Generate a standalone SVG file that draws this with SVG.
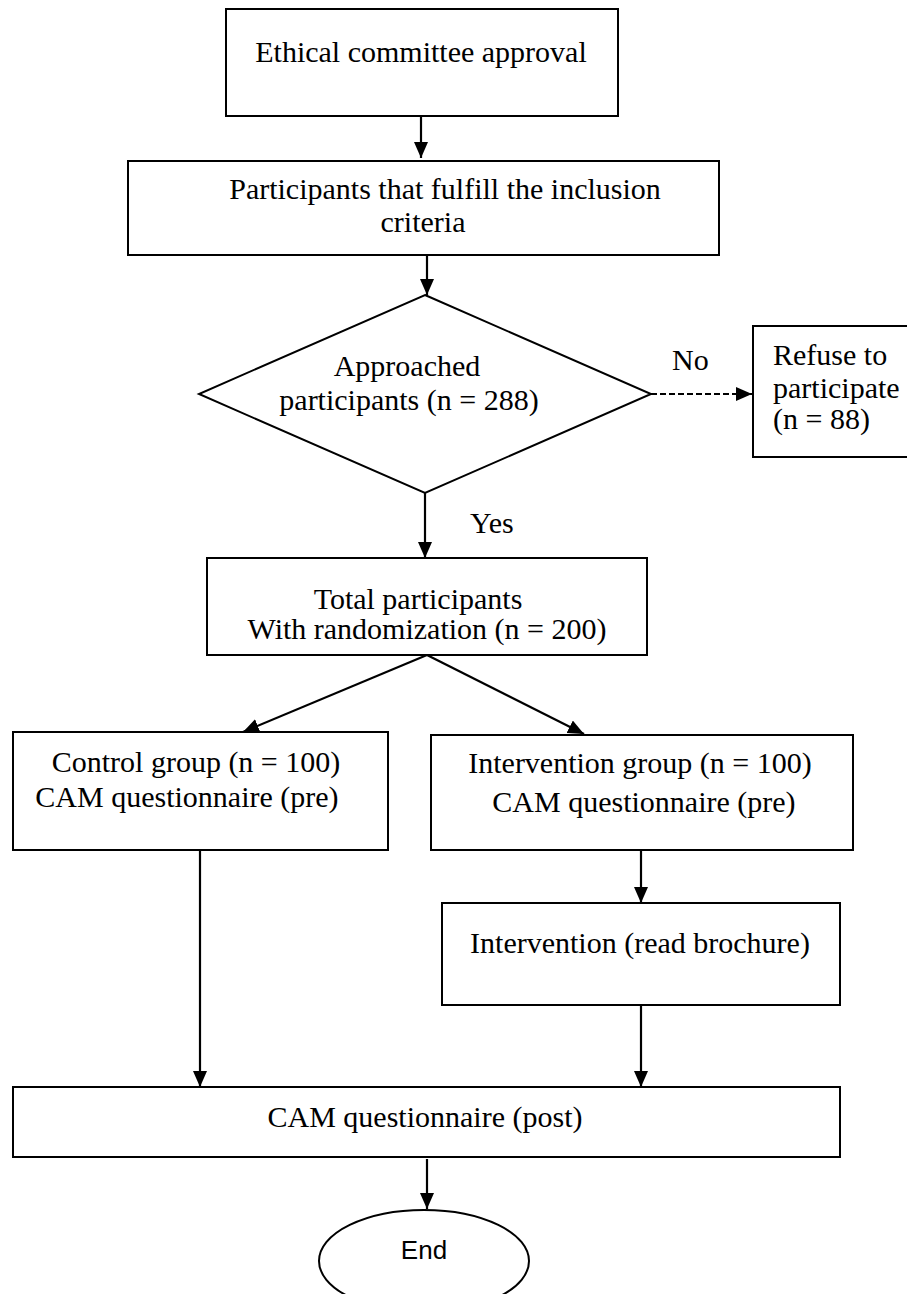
<svg xmlns="http://www.w3.org/2000/svg" width="907" height="1294" viewBox="0 0 907 1294">
<defs>
<style>
.box{fill:#fff;stroke:#000;stroke-width:2}
.t{font-family:"Liberation Serif","Times New Roman",serif;font-size:30px;fill:#000}
.c{text-anchor:middle}
.s{font-family:"Liberation Sans",Arial,sans-serif;font-size:26px;fill:#000;text-anchor:middle}
.ln{stroke:#000;stroke-width:2.2;fill:none;marker-end:url(#ah)}
.dash{stroke-dasharray:6 3}
</style>
<marker id="ah" markerUnits="userSpaceOnUse" markerWidth="18" markerHeight="16" refX="16" refY="7" orient="auto">
<path d="M0,0 L16,7 L0,14 z" fill="#000"/>
</marker>
</defs>
<rect width="907" height="1294" fill="#fff"/>
<g id="connectors">
<line class="ln" x1="421" y1="116" x2="421" y2="158"/>
<line class="ln" x1="427" y1="255" x2="427" y2="295"/>
<line class="ln dash" x1="651" y1="394" x2="752" y2="394"/>
<line class="ln" x1="425" y1="493" x2="425" y2="558"/>
<line class="ln" x1="427" y1="655" x2="243" y2="732"/>
<line class="ln" x1="427" y1="655" x2="584" y2="734"/>
<line class="ln" x1="641" y1="850" x2="641" y2="903"/>
<line class="ln" x1="200" y1="850" x2="200" y2="1087"/>
<line class="ln" x1="641" y1="1005" x2="641" y2="1087"/>
<line class="ln" x1="427" y1="1159" x2="427" y2="1209"/>
<text class="t" x="672" y="370">No</text>
<text class="t" x="470" y="533">Yes</text>
</g>
<g id="ethical">
<rect class="box" x="226" y="9" width="392" height="107"/>
<text class="t c" x="421" y="62">Ethical committee approval</text>
</g>
<g id="inclusion">
<rect class="box" x="128" y="161" width="591" height="94"/>
<text class="t c" x="445" y="199">Participants that fulfill the inclusion</text>
<text class="t c" x="423" y="232">criteria</text>
</g>
<g id="approached">
<polygon class="box" points="425,295 651,394 425,493 199,394"/>
<text class="t c" x="407" y="376">Approached</text>
<text class="t c" x="409" y="410">participants (n = 288)</text>
</g>
<g id="refuse">
<rect class="box" x="753" y="326" width="160" height="131"/>
<text class="t" x="773" y="365">Refuse to</text>
<text class="t" x="773" y="398">participate</text>
<text class="t" x="773" y="429">(n = 88)</text>
</g>
<g id="total">
<rect class="box" x="207" y="558" width="440" height="97"/>
<text class="t c" x="418" y="609">Total participants</text>
<text class="t c" x="427" y="639">With randomization (n = 200)</text>
</g>
<g id="control">
<rect class="box" x="13" y="732" width="375" height="118"/>
<text class="t c" x="196" y="772">Control group (n = 100)</text>
<text class="t c" x="187" y="807">CAM questionnaire (pre)</text>
</g>
<g id="intervention">
<rect class="box" x="431" y="735" width="422" height="115"/>
<text class="t c" x="640" y="773">Intervention group (n = 100)</text>
<text class="t c" x="644" y="812">CAM questionnaire (pre)</text>
</g>
<g id="brochure">
<rect class="box" x="442" y="903" width="398" height="102"/>
<text class="t c" x="640" y="953">Intervention (read brochure)</text>
</g>
<g id="post">
<rect class="box" x="13" y="1087" width="827" height="70"/>
<text class="t c" x="425" y="1127">CAM questionnaire (post)</text>
</g>
<g id="end">
<ellipse class="box" cx="424" cy="1261" rx="105" ry="51"/>
<text class="s" x="424" y="1259">End</text>
</g>
</svg>
